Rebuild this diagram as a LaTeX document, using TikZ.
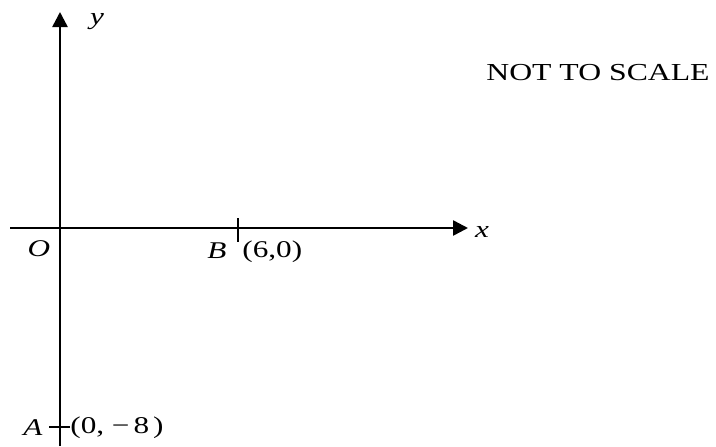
\documentclass[tikz,border=0pt]{standalone}
\usepackage{fontspec}
\setmainfont{Liberation Serif}[FakeStretch=1.3]
\usetikzlibrary{arrows.meta, positioning}

\begin{document}
\begin{tikzpicture}[
  x=0.5pt, y=-0.5pt,
  axis/.style={line width=1.25pt, -{Triangle[length=7.5pt, width=7.5pt]}},
  tick/.style={line width=1pt},
  var/.style={font=\fontsize{12}{14}\selectfont\itshape, inner sep=0pt},
  pointlbl/.style={font=\fontsize{12}{14}\selectfont, inner sep=0pt}
]
\useasboundingbox (0,0) rectangle (716,446);

\coordinate (orig) at (60,228);
\coordinate (ytip) at (60,12);
\coordinate (ybot) at (60,446);
\coordinate (xleft) at (10,228);
\coordinate (xtip) at (468,228);
\coordinate (B) at (238,228);
\coordinate (A) at (60,427);

\draw[axis] (ybot) -- (ytip);
\draw[axis] (xleft) -- (xtip);
\draw[tick] (B) ++(0,-10) -- ++(0,24);
\draw[tick] (A) ++(-11,0) -- ++(21,0);

\node[var] (ylab) at (97,22) {y};
\node[var] (xlab) at (482,232) {x};
\node[var] (Olab) at (39,249) {O};
\node[var] (Blab) at (217,251) {B};
\node[pointlbl, anchor=west] (Bpos) at (242,252) {(6,0)};
\node[var] (Alab) at (33,428) {A};
\node[pointlbl, anchor=west] (Apos) at (70,428) {(0, −\,8\,)};
\node[font=\fontsize{12.2}{15}\selectfont, inner sep=0pt] (note) at (598,73) {NOT TO SCALE};
\end{tikzpicture}
\end{document}
